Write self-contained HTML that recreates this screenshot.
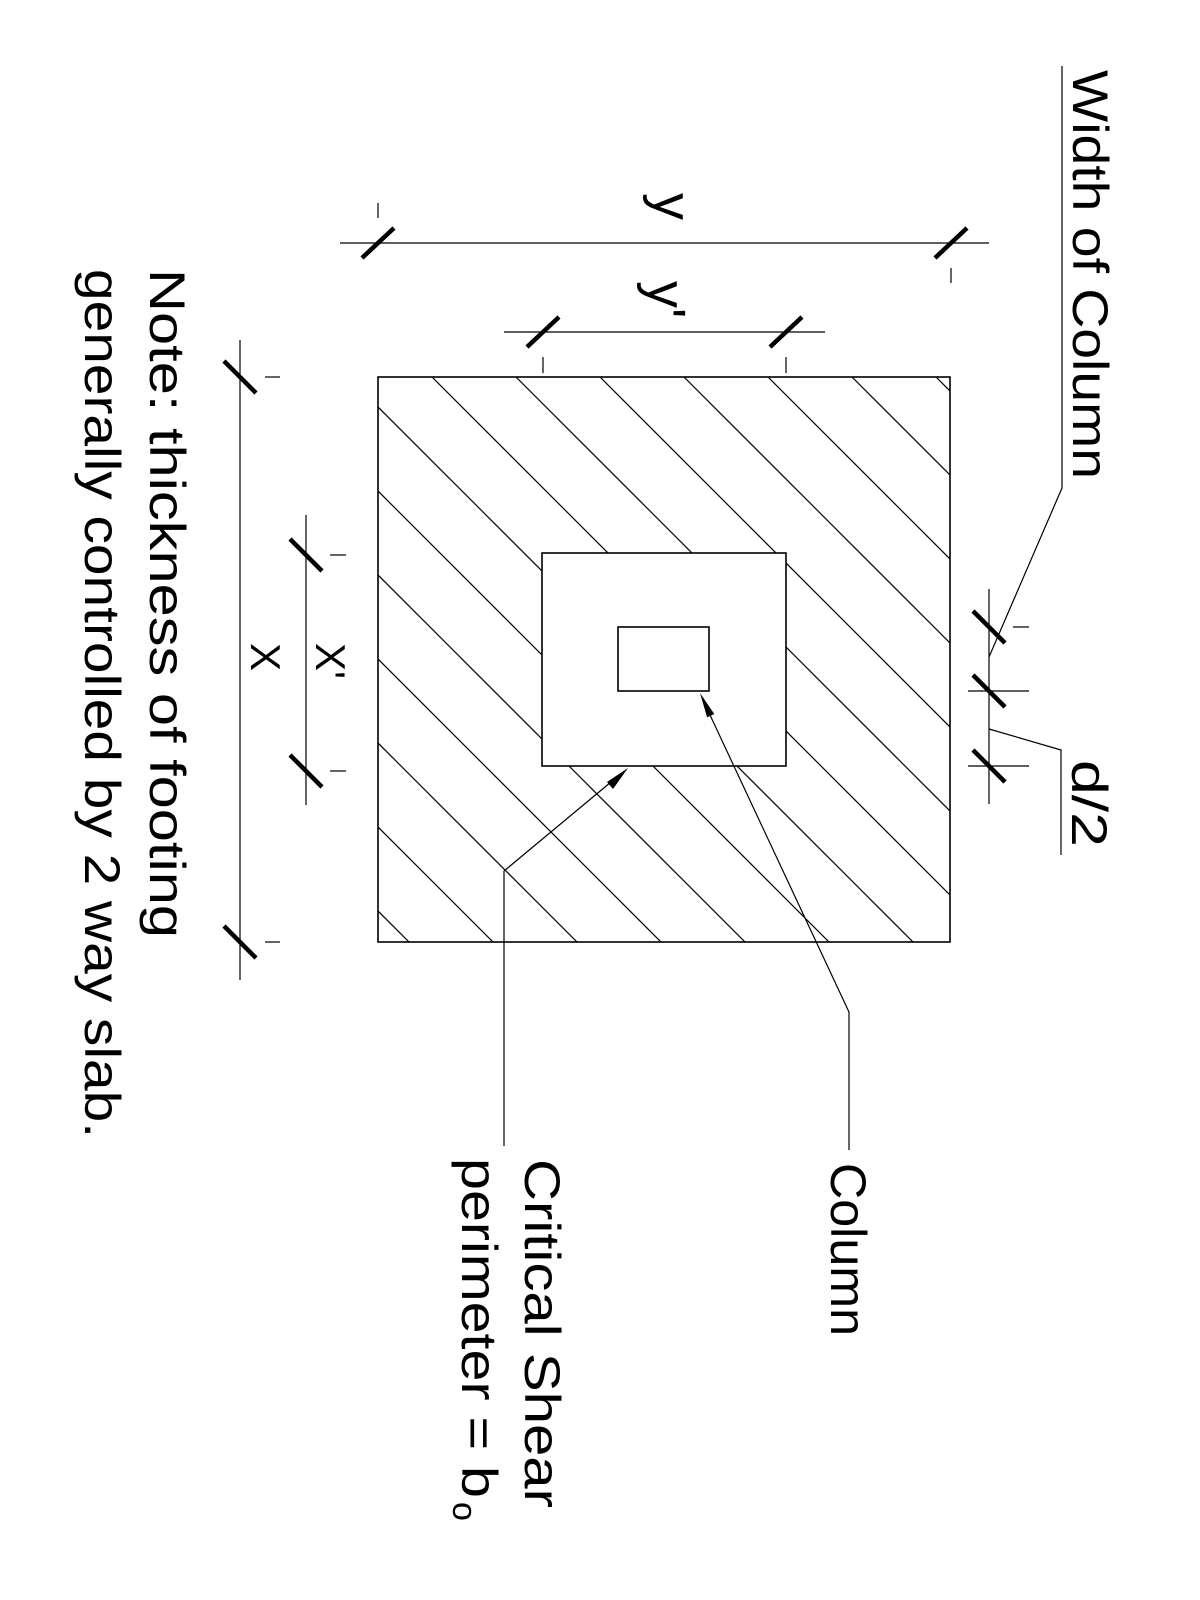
<!DOCTYPE html>
<html><head><meta charset="utf-8"><style>
html,body{margin:0;padding:0;background:#fff;width:1200px;height:1600px;overflow:hidden;}
svg{display:block;}
text{font-family:"Liberation Sans",sans-serif;fill:#000;}
</style></head><body>
<svg width="1200" height="1600" viewBox="0 0 1200 1600" xmlns="http://www.w3.org/2000/svg">
<defs><clipPath id="c"><rect x="378" y="377" width="572" height="565"/></clipPath></defs>
<g clip-path="url(#c)" stroke="#000" stroke-width="1.2">
<line x1="-300" y1="-859" x2="1300" y2="741"/>
<line x1="-300" y1="-775" x2="1300" y2="825"/>
<line x1="-300" y1="-691" x2="1300" y2="909"/>
<line x1="-300" y1="-607" x2="1300" y2="993"/>
<line x1="-300" y1="-523" x2="1300" y2="1077"/>
<line x1="-300" y1="-439" x2="1300" y2="1161"/>
<line x1="-300" y1="-355" x2="1300" y2="1245"/>
<line x1="-300" y1="-271" x2="1300" y2="1329"/>
<line x1="-300" y1="-187" x2="1300" y2="1413"/>
<line x1="-300" y1="-103" x2="1300" y2="1497"/>
<line x1="-300" y1="-19" x2="1300" y2="1581"/>
<line x1="-300" y1="65" x2="1300" y2="1665"/>
<line x1="-300" y1="149" x2="1300" y2="1749"/>
<line x1="-300" y1="233" x2="1300" y2="1833"/>
<line x1="-300" y1="317" x2="1300" y2="1917"/>
</g>
<g fill="none" stroke="#000" stroke-width="1.6">
<rect x="378" y="377" width="572" height="565"/>
<rect x="542" y="553" width="244" height="213" fill="#fff"/>
<rect x="618" y="627" width="91" height="64"/>
</g>
<g stroke="#000" stroke-width="1.2" fill="none">
<line x1="340" y1="243" x2="989" y2="243"/>
<line x1="378" y1="203" x2="378" y2="218"/>
<line x1="951" y1="268" x2="951" y2="283"/>
<line x1="504" y1="332" x2="825" y2="332"/>
<line x1="543" y1="357" x2="543" y2="373"/>
<line x1="786" y1="357" x2="786" y2="373"/>
<line x1="240" y1="340" x2="240" y2="980"/>
<line x1="265" y1="377" x2="280" y2="377"/>
<line x1="265" y1="942" x2="280" y2="942"/>
<line x1="306" y1="515" x2="306" y2="805"/>
<line x1="330" y1="555" x2="346" y2="555"/>
<line x1="330" y1="771" x2="346" y2="771"/>
<line x1="989" y1="589" x2="989" y2="804"/>
<line x1="1013" y1="627" x2="1029" y2="627"/>
<line x1="968" y1="691" x2="1029" y2="691"/>
<line x1="968" y1="766" x2="1029" y2="766"/>
<polyline points="989,657 1062,488 1062,66"/>
<polyline points="989,729 1061,750 1061,855"/>
<polyline points="504,1146 504,871 611,782"/>
<polyline points="849,1150 849,1012 710,715"/>
</g>
<g stroke="#000" stroke-width="4.5">
<line x1="362" y1="258" x2="394" y2="228"/>
<line x1="935" y1="258" x2="967" y2="228"/>
<line x1="527" y1="347" x2="559" y2="317"/>
<line x1="770" y1="347" x2="802" y2="317"/>
<line x1="224" y1="361" x2="256" y2="393"/>
<line x1="224" y1="926" x2="256" y2="958"/>
<line x1="290" y1="539" x2="322" y2="571"/>
<line x1="290" y1="755" x2="322" y2="787"/>
<line x1="973" y1="611" x2="1005" y2="643"/>
<line x1="973" y1="675" x2="1005" y2="707"/>
<line x1="973" y1="750" x2="1005" y2="782"/>
</g>
<g fill="#000">
<polygon points="628,768 613,789 607,782"/>
<polygon points="700,693 714.3,714 707.1,717.4"/>
</g>
<text transform="translate(1073,70) rotate(90)" font-size="50" textLength="409" lengthAdjust="spacingAndGlyphs">Width of Column</text>
<text transform="translate(1072,760) rotate(90)" font-size="50" textLength="87" lengthAdjust="spacingAndGlyphs">d/2</text>
<text transform="translate(150,269) rotate(90)" font-size="50" textLength="669" lengthAdjust="spacingAndGlyphs">Note: thickness of footing</text>
<text transform="translate(85,269) rotate(90)" font-size="50" textLength="869" lengthAdjust="spacingAndGlyphs">generally controlled by 2 way slab.</text>
<text transform="translate(831,1163) rotate(90)" font-size="50" textLength="173" lengthAdjust="spacingAndGlyphs">Column</text>
<text transform="translate(525,1159) rotate(90)" font-size="50" textLength="349" lengthAdjust="spacingAndGlyphs">Critical Shear</text>
<text transform="translate(462,1158) rotate(90)" font-size="50" textLength="340" lengthAdjust="spacingAndGlyphs">perimeter = b</text>
<text transform="translate(453,1502) rotate(90)" font-size="34">o</text>
<text transform="translate(654,193) rotate(90)" font-size="54">y</text>
<text transform="translate(648,281) rotate(90)" font-size="54">y'</text>
<text transform="translate(251,643) rotate(90)" font-size="42">X</text>
<text transform="translate(316,643) rotate(90)" font-size="42">X'</text>
</svg>
</body></html>
